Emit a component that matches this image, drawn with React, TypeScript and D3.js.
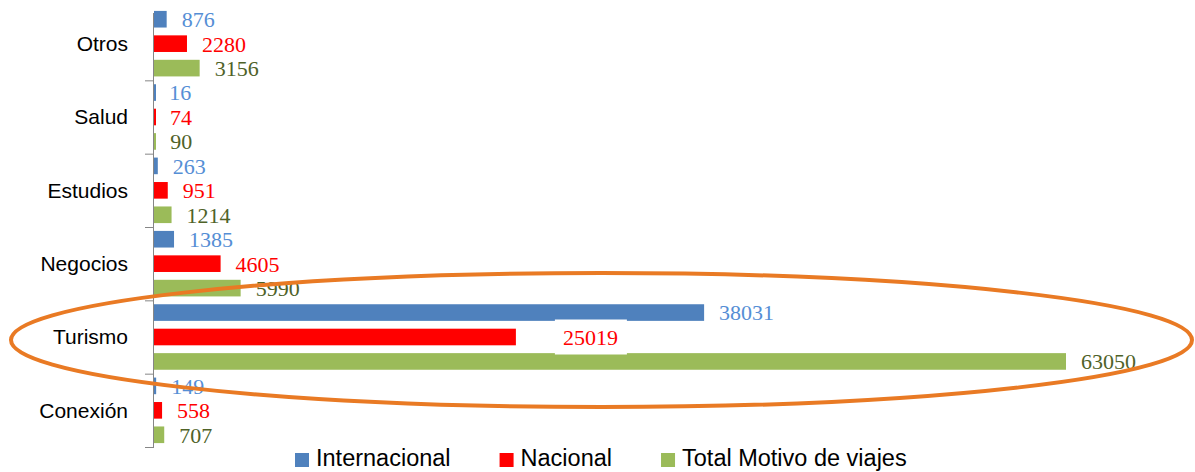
import { useEffect, useRef } from "react";
import * as d3 from "d3";

const categories = ["Otros", "Salud", "Estudios", "Negocios", "Turismo", "Conexión"];
const internacional = [876, 16, 263, 1385, 38031, 149];
const nacional = [2280, 74, 951, 4605, 25019, 558];
const totalMotivo = [3156, 90, 1214, 5990, 63050, 707];
const seriesNames = ["Internacional", "Nacional", "Total Motivo de viajes"];

const barColors = ["#4F81BD", "#FF0000", "#9BBB59"];
const labelColors = ["#558ED5", "#FF0000", "#4F6228"];

const width = 1195;
const height = 472;

export default function App() {
  const ref = useRef<SVGSVGElement | null>(null);

  useEffect(() => {
    const svg = d3.select(ref.current);
    svg.selectAll("*").remove();

    const margin = { top: 7, right: 129, bottom: 25, left: 154 };
    const series = [internacional, nacional, totalMotivo];

    const rows = categories.map((c, i) => ({
      category: c,
      values: series.map((s, k) => ({ key: k, value: s[i] })),
    }));

    const y = d3
      .scaleBand()
      .domain(categories)
      .range([margin.top, height - margin.bottom])
      .padding(0);

    const yInner = d3
      .scaleBand<number>()
      .domain([0, 1, 2])
      .range([0, y.bandwidth()])
      .paddingInner(0.32)
      .paddingOuter(0.16);

    const x = d3
      .scaleLinear()
      .domain([0, d3.max(totalMotivo) as number])
      .range([margin.left, width - margin.right]);

    // bars
    const groups = svg
      .append("g")
      .selectAll("g")
      .data(rows)
      .enter()
      .append("g")
      .attr("transform", (d) => `translate(0,${y(d.category)})`);

    groups
      .selectAll("rect")
      .data((d) => d.values)
      .enter()
      .append("rect")
      .attr("x", x(0))
      .attr("y", (d) => yInner(d.key) as number)
      .attr("width", (d) => Math.max(x(d.value) - x(0), 2))
      .attr("height", yInner.bandwidth())
      .attr("fill", (d) => barColors[d.key]);

    // white box behind the moved Turismo/Nacional label
    const turismoRed = { cat: "Turismo", key: 1, dx: 47 };

    groups
      .filter((d) => d.category === turismoRed.cat)
      .append("rect")
      .attr("x", (d) => x(d.values[turismoRed.key].value) + turismoRed.dx - 8)
      .attr("y", (yInner(turismoRed.key) as number) + yInner.bandwidth() / 2 - 17.5)
      .attr("width", 72)
      .attr("height", 35)
      .attr("fill", "#fff");

    groups
      .selectAll("text.val")
      .data((d) => d.values.map((v) => ({ ...v, category: d.category })))
      .enter()
      .append("text")
      .attr("class", "val")
      .attr(
        "x",
        (d) =>
          x(d.value) +
          (d.category === turismoRed.cat && d.key === turismoRed.key ? turismoRed.dx : 15)
      )
      .attr("y", (d) => (yInner(d.key) as number) + yInner.bandwidth() / 2)
      .attr("dy", "0.36em")
      .attr("font-family", "'Liberation Serif', serif")
      .attr("font-size", "22px")
      .attr("fill", (d) => labelColors[d.key])
      .text((d) => d.value);

    // category axis
    const axis = svg.append("g").attr("stroke", "#868686").attr("stroke-width", 1);
    axis
      .append("line")
      .attr("x1", x(0) - 0.5)
      .attr("x2", x(0) - 0.5)
      .attr("y1", y.range()[0] + 6)
      .attr("y2", y.range()[1]);

    const bounds = categories.slice(1).map((c) => y(c) as number).concat([y.range()[1]]);
    axis
      .selectAll("line.tick")
      .data(bounds)
      .enter()
      .append("line")
      .attr("class", "tick")
      .attr("x1", x(0) - 9)
      .attr("x2", x(0))
      .attr("y1", (d) => d + 0.5)
      .attr("y2", (d) => d + 0.5);

    svg
      .append("g")
      .selectAll("text")
      .data(categories)
      .enter()
      .append("text")
      .attr("x", x(0) - 26)
      .attr("y", (d) => (y(d) as number) + y.bandwidth() / 2)
      .attr("dy", "0.35em")
      .attr("text-anchor", "end")
      .attr("font-family", "'Liberation Sans', Arial, sans-serif")
      .attr("font-size", "21px")
      .attr("fill", "#000")
      .text((d) => d);

    // legend
    const legend = svg.append("g").attr("transform", `translate(295,0)`);
    let lx = 0;
    seriesNames.forEach((name, k) => {
      legend
        .append("rect")
        .attr("x", lx)
        .attr("y", 453)
        .attr("width", 14)
        .attr("height", 14)
        .attr("fill", barColors[k]);
      const t = legend
        .append("text")
        .attr("x", lx + 21)
        .attr("y", 466)
        .attr("font-family", "'Liberation Sans', Arial, sans-serif")
        .attr("font-size", "23.5px")
        .attr("fill", "#000")
        .text(name);
      const w = (t.node() as SVGTextElement).getComputedTextLength();
      lx += 21 + w + 49;
    });

    // highlight ellipse around Turismo
    const cy = (y("Turismo") as number) + y.bandwidth() / 2 + 3;
    const left = 11;
    const right = width - 3;
    svg
      .append("ellipse")
      .attr("cx", (left + right) / 2)
      .attr("cy", cy)
      .attr("rx", (right - left) / 2)
      .attr("ry", 67)
      .attr("fill", "none")
      .attr("stroke", "#E97A24")
      .attr("stroke-width", 4);
  }, []);

  return (
    <svg
      ref={ref}
      width={width}
      height={height}
      style={{ position: "absolute", left: 0, top: 0, background: "#fff" }}
    />
  );
}
